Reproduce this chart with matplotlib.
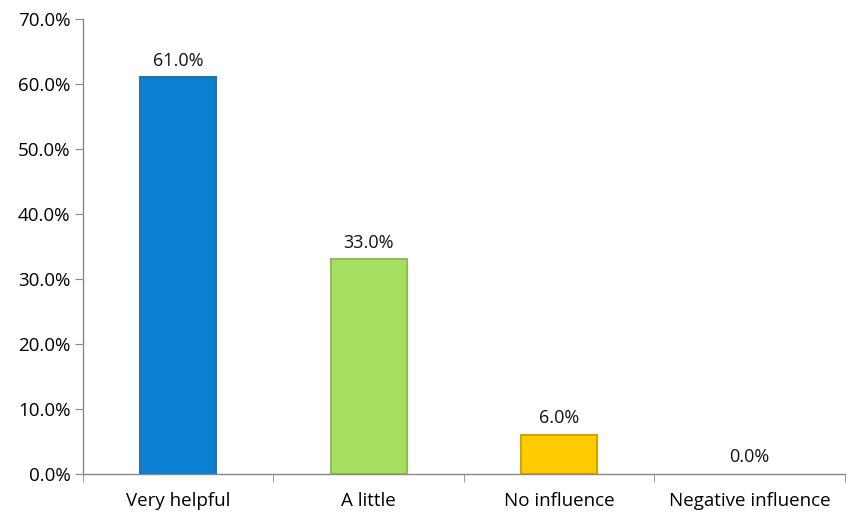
import matplotlib
matplotlib.use("Agg")
import matplotlib.pyplot as plt
from matplotlib.ticker import FuncFormatter, MultipleLocator

categories = ["Very helpful", "A little", "No influence", "Negative influence"]
values = [61.0, 33.0, 6.0, 0.0]
colors = ["#0A80D2", "#A5DF62", "#FFCC00", "#888888"]
edges = ["#2A6FA8", "#8CBF55", "#D4A300", "#888888"]

plt.rcParams['font.family'] = ['Open Sans', 'DejaVu Sans']

fig = plt.figure(figsize=(8.55, 5.22), dpi=100)
ax = fig.add_axes([0.0971, 0.092, 0.891, 0.8716])

x = list(range(len(categories)))
lws = [1.5 if v > 0 else 0 for v in values]
bars = ax.bar(x, values, width=0.4, color=colors, edgecolor=edges, linewidth=lws)
for xi, v in zip(x, values):
    ax.text(xi, v + 1.2, f"{v:.1f}%", ha="center", va="bottom", fontsize=13, color="#111111")

ax.set_xlim(-0.5, 3.5)
ax.set_ylim(0, 70)
ax.yaxis.set_major_locator(MultipleLocator(10))
ax.yaxis.set_major_formatter(FuncFormatter(lambda v, p: f"{v:.1f}%"))
ax.set_xticks(x)
ax.set_xticklabels(categories)
ax.set_xticks([-0.5, 0.5, 1.5, 2.5, 3.5], minor=True)
ax.tick_params(axis="x", which="major", length=0, pad=13, labelsize=13.5)
ax.tick_params(axis="x", which="minor", length=6, color="#888888", direction="out")
ax.tick_params(axis="y", length=6, color="#888888", direction="out", labelsize=13.5, pad=3)
for s in ["top", "right"]:
    ax.spines[s].set_visible(False)
for s in ["left", "bottom"]:
    ax.spines[s].set_color("#888888")
    ax.spines[s].set_linewidth(1)

fig.savefig("out.png", dpi=100)
